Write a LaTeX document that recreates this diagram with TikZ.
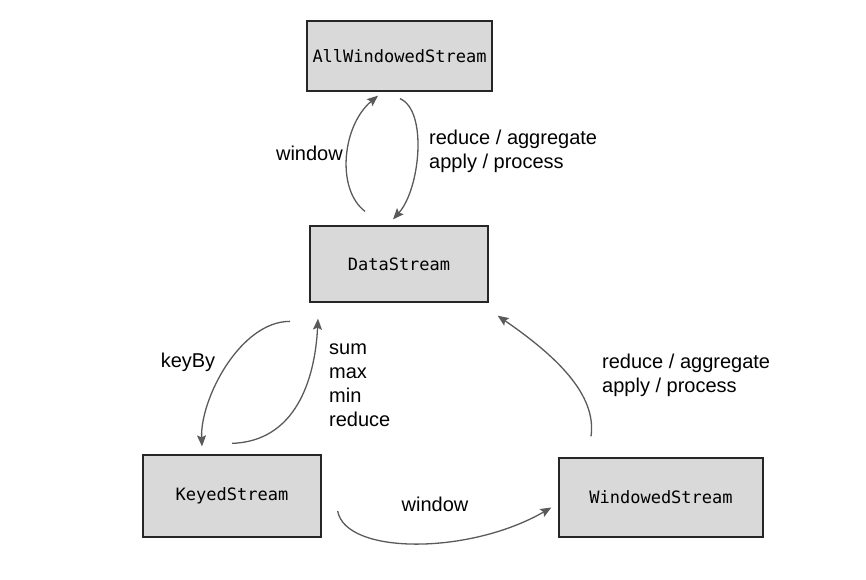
\documentclass[tikz,border=0pt]{standalone}
\usepackage{fontspec}
\setmainfont{Liberation Sans}
\setmonofont{DejaVu Sans Mono}
\usetikzlibrary{ positioning, arrows.meta, calc }
\definecolor{boxfill}{HTML}{D9D9D9}
\definecolor{edgegray}{HTML}{5A5A5A}

\begin{document}
\begin{tikzpicture}[
  x=1pt, y=-1pt,
  every node/.style={font=\fontsize{20}{24}\selectfont},
  stream/.style={draw=black!85, line width=1.3pt, fill=boxfill, inner sep=0pt,
                 font=\fontsize{17}{20}\selectfont\ttfamily},
  op/.style={-{Stealth[length=11pt,width=9pt,inset=2pt]}, draw=edgegray, line width=1.3pt},
  oplabel/.style={align=left, anchor=west, inner sep=0pt},
]
  \useasboundingbox (0,0) rectangle (866,579);
  % streams
  \node[stream, minimum width=185pt, minimum height=70pt] (aws) at (399.5,56) {AllWindowedStream};
  \node[stream, minimum width=178pt, minimum height=76pt] (ds) at (399,264) {DataStream};
  \node[stream, minimum width=178pt, minimum height=82pt] (ks) at (232,496) {KeyedStream};
  \node[stream, minimum width=204pt, minimum height=79pt] (ws) at (661,497.5) {WindowedStream};
  % DataStream <-> AllWindowedStream
  \draw[op] ($(ds.north)+(-34,-14)$) .. controls +(-29,-22) and +(-36,30) .. ($(aws.south)+(-21.5,4)$);
  \draw[op] ($(aws.south)+(0.5,7)$) .. controls +(28,12) and +(27,-30) .. ($(ds.north)+(-6,-6)$);
  \node[anchor=east, inner sep=0pt] (lwin1) at (343,153) {window};
  \node[oplabel] (lagg1) at (429,151) {reduce / aggregate\\apply / process};
  % DataStream <-> KeyedStream
  \draw[op] ($(ks.north)+(58,-133)$) .. controls +(-50,0) and +(-2,-47) .. ($(ks.north)+(-30,-8)$);
  \draw[op] ($(ks.north)+(0,-11)$) .. controls +(63,-2) and +(-3,62) .. ($(ds.south)+(-81,16)$);
  \node[inner sep=0pt] (lkey) at (188,362) {keyBy};
  \node[oplabel] (lsum) at (329,385) {sum\\max\\min\\reduce};
  % KeyedStream -> WindowedStream -> DataStream
  \draw[op] ($(ks.east)+(16,15)$) .. controls +(8,44) and +(-82,47.5) .. ($(ws.west)+(-7,10)$);
  \node[inner sep=0pt] (lwin2) at (435,504) {window};
  \draw[op] ($(ws.north)+(-70,-21)$) .. controls +(6,-42) and +(58,40) .. ($(ds.south east)+(9,13)$);
  \node[oplabel] (lagg2) at (602,375) {reduce / aggregate\\apply / process};
\end{tikzpicture}
\end{document}
